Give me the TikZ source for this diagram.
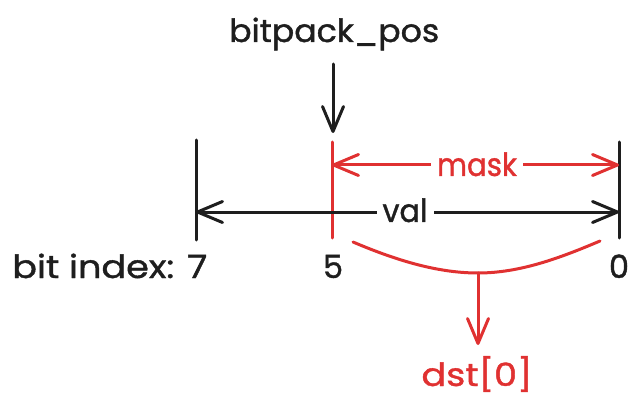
\documentclass[tikz,border=0pt]{standalone}
\usepackage{fontspec}
\setmainfont{Poppins}[FakeBold=1.2]
\newfontfamily\medfont{Poppins}[FakeBold=1.2]
\usepackage{graphicx}
\usetikzlibrary{arrows.meta}
\definecolor{exred}{HTML}{E03131}
\definecolor{exblk}{HTML}{1E1E1E}
\newcommand\fitw[2]{\resizebox{#1}{\height}{#2}}
\begin{document}
\begin{tikzpicture}[x=1pt,y=-1pt,
  ln/.style={line width=3pt, line cap=round, line join=round},
  tip/.style={-{Straight Barb[length=25pt,width=21pt,round]}},
  dtip/.style={{Straight Barb[length=25pt,width=21pt,round]}-{Straight Barb[length=25pt,width=21pt,round]}},
  lbl/.style={inner sep=0pt, font=\fontsize{32}{38}\selectfont\medfont},
]
\useasboundingbox (0,0) rectangle (642,406);
% coordinates
\coordinate (pS) at (333,64);
\coordinate (pE) at (333,133);
\coordinate (v7t) at (196,140);
\coordinate (v7b) at (196,240);
\coordinate (v5t) at (332,142);
\coordinate (v5b) at (332,238);
\coordinate (v0t) at (619,142);
\coordinate (v0b) at (619,238);
\coordinate (mL) at (332,165);
\coordinate (mR) at (619,165);
\coordinate (vL) at (196,212);
\coordinate (vR) at (619,212);
\coordinate (cA) at (353,242);
\coordinate (cM) at (478,273);
\coordinate (cB) at (600,241);
\coordinate (dE) at (478,345);
% texts
\node[lbl, anchor=base west, text=exblk] (bp) at (229,42) {\fitw{210pt}{bitpack\_pos}};
\node[lbl, anchor=base west, text=exblk] (bi) at (12,278) {\fitw{195pt}{bit index: 7}};
\node[lbl, anchor=base, text=exblk] (n5) at (333,278) {5};
\node[lbl, anchor=base, text=exblk] (n0) at (619,278) {0};
\node[lbl, anchor=base, text=exred] (dst) at (477,386) {\fitw{111pt}{dst[0]}};
% lines
\draw[ln, exblk] (v7t) -- (v7b);
\draw[ln, exblk] (v0t) -- (v0b);
\draw[ln, exred] (v5t) -- (v5b);
\draw[ln, tip, exblk] (pS) -- (pE);
\draw[ln, dtip, exred] (mL) -- (mR);
\draw[ln, dtip, exblk] (vL) -- (vR);
\draw[ln, exred] (cA) .. controls (400,262) and (440,273) .. (cM)
  .. controls (520,273) and (560,258) .. (cB);
\draw[ln, tip, exred] (cM) -- (dE);
% labels over lines
\node[lbl, anchor=base, text=exred, fill=white, inner xsep=6pt] (mask) at (477,176) {\fitw{80pt}{mask}};
\node[lbl, anchor=base, text=exblk, fill=white, inner xsep=6pt] (val) at (405,222) {\fitw{45pt}{val}};
\end{tikzpicture}
\end{document}
